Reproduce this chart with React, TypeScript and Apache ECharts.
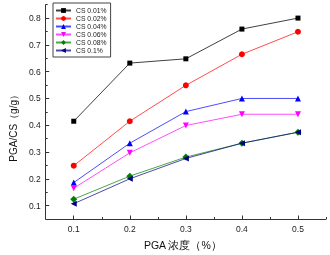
import React, { useEffect, useRef } from "react";
import * as echarts from "echarts";

const xValues = [0.1, 0.2, 0.3, 0.4, 0.5];
const seriesNames = ["CS 0.01%", "CS 0.02%", "CS 0.04%", "CS 0.06%", "CS 0.08%", "CS 0.1%"];
const cs001 = [0.415, 0.632, 0.648, 0.759, 0.8];
const cs002 = [0.249, 0.415, 0.549, 0.665, 0.749];
const cs004 = [0.186, 0.333, 0.451, 0.5, 0.5];
const cs006 = [0.165, 0.297, 0.399, 0.441, 0.441];
const cs008 = [0.124, 0.21, 0.281, 0.333, 0.374];
const cs01 = [0.107, 0.2, 0.276, 0.333, 0.374];
const xMajorTicks = [0.1, 0.2, 0.3, 0.4, 0.5];
const xMinorTicks = [0.15, 0.25, 0.35, 0.45, 0.55];
const yMajorTicks = [0.1, 0.2, 0.3, 0.4, 0.5, 0.6, 0.7, 0.8];
const yMinorTicks = [0.15, 0.25, 0.35, 0.45, 0.55, 0.65, 0.75, 0.85];

const allValues = [cs001, cs002, cs004, cs006, cs008, cs01];
const colors = ["#000000", "#ff0000", "#0000ff", "#ff00ff", "#008000", "#000080"];
const symbols = ["rect", "circle", "triangle", "triangle", "diamond", "triangle"];
const rotations = [0, 0, 0, 180, 0, 90];
const sizes = [5, 6, 6, 6, 7, 6];

const FONT = "'Liberation Sans', Arial, sans-serif";

export default function App() {
  const ref = useRef<HTMLDivElement>(null);
  useEffect(() => {
    if (!ref.current) return;
    const chart = echarts.init(ref.current, undefined, { renderer: "svg" });
    const axisColor = "#333";
    const baseX = {
      type: "value" as const,
      min: 0.05,
      max: 0.55,
      position: "bottom" as const,
      splitLine: { show: false },
    };
    const baseY = {
      type: "value" as const,
      min: 0.05,
      max: 0.85,
      position: "left" as const,
      splitLine: { show: false },
    };
    chart.setOption({
      animation: false,
      textStyle: { fontFamily: FONT },
      grid: { left: 37, right: 4, top: 4.7, bottom: 34.5 },
      legend: {
        orient: "vertical",
        left: 53,
        top: 3,
        padding: [4, 4, 3, 2],
        borderColor: "#444",
        borderWidth: 1,
        itemWidth: 15,
        itemHeight: 6,
        itemGap: 1,
        textStyle: { fontSize: 6.8, lineHeight: 7, color: "#222", fontFamily: FONT },
        data: seriesNames,
      },
      xAxis: [
        {
          ...baseX,
          name: "PGA 浓度（%）",
          nameLocation: "middle",
          nameGap: 20,
          nameTextStyle: { fontSize: 10.5, color: "#111", fontFamily: FONT, padding: [0, 6, 0, 0] },
          axisLine: { show: true, lineStyle: { color: axisColor, width: 1 } },
          axisTick: { show: true, inside: true, length: 3.5, customValues: xMajorTicks, lineStyle: { color: axisColor } },
          axisLabel: {
            show: true,
            customValues: xMajorTicks,
            margin: 5,
            fontSize: 8.5,
            color: "#222",
            formatter: (v: number) => v.toFixed(1),
          },
        },
        {
          ...baseX,
          axisLine: { show: false },
          axisTick: { show: true, inside: true, length: 2, customValues: xMinorTicks, lineStyle: { color: axisColor } },
          axisLabel: { show: false },
        },
      ],
      yAxis: [
        {
          ...baseY,
          name: "PGA/CS（g/g）",
          nameLocation: "middle",
          nameGap: 23,
          nameRotate: 90,
          nameTextStyle: { fontSize: 10, color: "#111", fontFamily: FONT, padding: [0, 28, 0, 0] },
          axisLine: { show: true, lineStyle: { color: axisColor, width: 1 } },
          axisTick: { show: true, inside: true, length: 3.5, customValues: yMajorTicks, lineStyle: { color: axisColor } },
          axisLabel: {
            show: true,
            customValues: yMajorTicks,
            margin: 5,
            fontSize: 8.5,
            color: "#222",
            formatter: (v: number) => v.toFixed(1),
          },
        },
        {
          ...baseY,
          axisLine: { show: false },
          axisTick: { show: true, inside: true, length: 2, customValues: yMinorTicks, lineStyle: { color: axisColor } },
          axisLabel: { show: false },
        },
      ],
      series: seriesNames.map((name, i) => ({
        name,
        type: "line",
        xAxisIndex: 0,
        yAxisIndex: 0,
        data: xValues.map((x, j) => [x, allValues[i][j]]),
        symbol: symbols[i],
        symbolRotate: rotations[i],
        symbolSize: sizes[i],
        showAllSymbol: true,
        lineStyle: { color: colors[i], width: 1, opacity: i === 0 ? 0.75 : 0.7 },
        itemStyle: { color: colors[i] },
        emphasis: { disabled: true },
      })),
    });
    return () => chart.dispose();
  }, []);
  return <div ref={ref} style={{ position: "fixed", left: 0, top: 0, width: 330, height: 255 }} />;
}
